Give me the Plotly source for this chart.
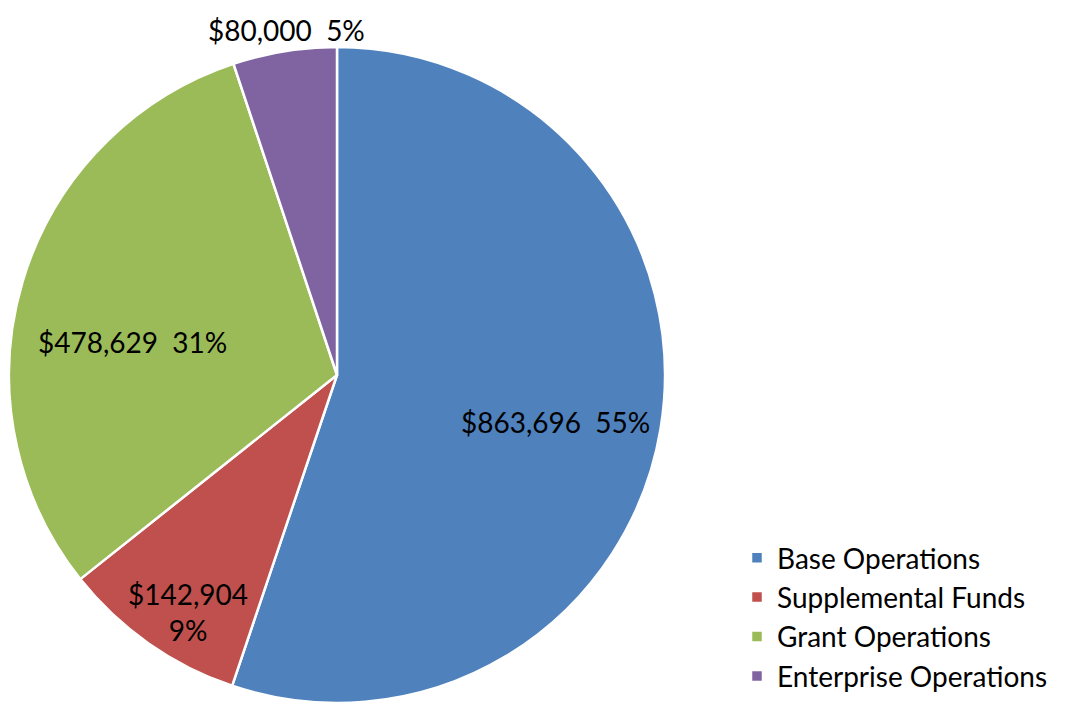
import plotly.graph_objects as go

categories = ["Base Operations", "Supplemental Funds", "Grant Operations", "Enterprise Operations"]
values = [863696, 142904, 478629, 80000]
colors = ["#4F81BD", "#C0504D", "#9BBB59", "#8064A2"]

W, H = 1071, 703
total = sum(values)
pcts = [round(v / total * 100) for v in values]

fig = go.Figure(go.Pie(
    labels=categories, values=values, sort=False, direction="clockwise", rotation=0,
    marker=dict(colors=colors, line=dict(color="white", width=2.5)),
    textinfo="none", hoverinfo="label+value+percent",
    domain=dict(x=[1 / W, 657 / W], y=[8 / H, 1 - 39 / H]),
))

# label anchor positions (pixels) for each slice
label_pos = [(547, 414), (180, 604), (124, 334), (278, 22)]
label_sep = ["  ", "<br>", "  ", "  "]
for v, p, (px, py), sep in zip(values, pcts, label_pos, label_sep):
    fig.add_annotation(x=px / W, y=1 - py / H, xref="paper", yref="paper",
                       text=f"${v:,}{sep}{p}%", showarrow=False,
                       font=dict(size=28, color="black"), xanchor="center", yanchor="middle")

fig.update_layout(
    width=W, height=H, margin=dict(l=0, r=0, t=0, b=0),
    paper_bgcolor="white", plot_bgcolor="white",
    font=dict(family="Lato, Carlito, Calibri, sans-serif", size=28, color="black"),
    legend=dict(x=729 / W, y=10 / H, xanchor="left", yanchor="bottom",
                font=dict(size=28), tracegroupgap=0, itemwidth=30),
)
fig.write_html("out.html")
